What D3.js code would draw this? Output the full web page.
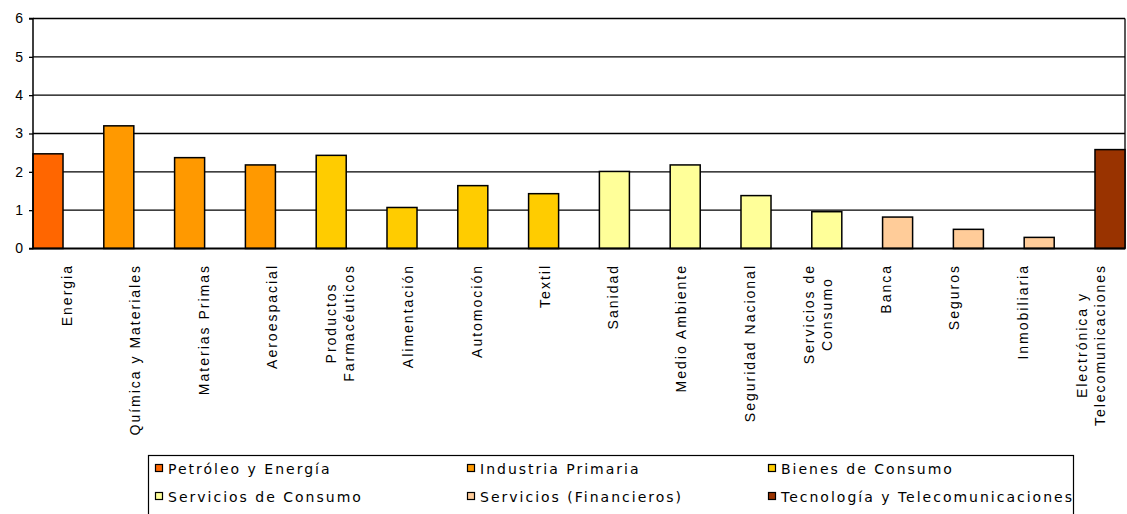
<!DOCTYPE html>
<html>
<head>
<meta charset="utf-8">
<script src="https://cdn.jsdelivr.net/npm/d3@7/dist/d3.min.js"></script>
<style>
  html, body { margin: 0; padding: 0; background: #fff; }
  svg { display: block; }
</style>
</head>
<body>
<svg id="chart" width="1127" height="514"></svg>
<script>
// ---- data ----
const categories = [
  "Energia", "Química y Materiales", "Materias Primas", "Aeroespacial",
  "Productos\nFarmacéuticos", "Alimentación", "Automoción", "Textil",
  "Sanidad", "Medio Ambiente", "Seguridad Nacional", "Servicios de\nConsumo",
  "Banca", "Seguros", "Inmobiliaria", "Electrónica y\nTelecomunicaciones"
];
const values = [2.47, 3.2, 2.37, 2.18, 2.43, 1.07, 1.64, 1.43, 2.01, 2.18, 1.38, 0.96, 0.82, 0.5, 0.29, 2.58];
const groupOf = [0, 1, 1, 1, 2, 2, 2, 2, 3, 3, 3, 3, 4, 4, 4, 5];
const groups = ["Petróleo y Energía", "Industria Primaria", "Bienes de Consumo",
                "Servicios de Consumo", "Servicios (Financieros)", "Tecnología y Telecomunicaciones"];
const groupColors = ["#FF6600", "#FF9900", "#FFCC00", "#FFFF99", "#FFCC99", "#993300"];
const yTicks = [0, 1, 2, 3, 4, 5, 6];

// ---- layout ----
const svg = d3.select("#chart");
const plot = { left: 33, right: 1125, top: 18.5, bottom: 248.5 };
const FONT = "Arial, 'Liberation Sans', Helvetica, sans-serif";

const y = d3.scaleLinear().domain([0, 6]).range([plot.bottom, plot.top]);
const xLabel = d3.scaleBand().domain(d3.range(categories.length)).range([plot.left, plot.right]);
const xBar = d3.scaleBand().domain(d3.range(categories.length))
  .range([plot.left, plot.right]).paddingInner(0.576).paddingOuter(0);

// gridlines
svg.append("g")
  .selectAll("line")
  .data(yTicks.filter(d => d > 0))
  .join("line")
  .attr("x1", plot.left).attr("x2", plot.right)
  .attr("y1", d => y(d)).attr("y2", d => y(d))
  .attr("stroke", "#000").attr("stroke-width", 1.3);

// right border
svg.append("line")
  .attr("x1", plot.right).attr("x2", plot.right)
  .attr("y1", y(6)).attr("y2", y(0))
  .attr("stroke", "#000").attr("stroke-width", 1.3);

// bars
svg.append("g")
  .selectAll("rect")
  .data(values)
  .join("rect")
  .attr("x", (d, i) => xBar(i))
  .attr("width", xBar.bandwidth())
  .attr("y", d => y(d))
  .attr("height", d => y(0) - y(d))
  .attr("fill", (d, i) => groupColors[groupOf[i]])
  .attr("stroke", "#000").attr("stroke-width", 1.5);

// y axis
const yAxis = d3.axisLeft(y).tickValues(yTicks).tickSize(4).tickPadding(6).tickFormat(d3.format("d"));
const ya = svg.append("g").attr("transform", `translate(${plot.left},0)`).call(yAxis);
ya.select(".domain").attr("stroke", "#000").attr("stroke-width", 1.5).attr("d", `M-4,${y(6)}H0V${y(0)}H-4`);
ya.selectAll(".tick line").attr("stroke", "#000").attr("stroke-width", 1.3);
ya.selectAll(".tick text").attr("fill", "#000")
  .style("font-family", FONT).style("font-size", "14px");

// x axis baseline
svg.append("line")
  .attr("x1", plot.left).attr("x2", plot.right)
  .attr("y1", y(0)).attr("y2", y(0))
  .attr("stroke", "#000").attr("stroke-width", 2);

// category labels (rotated)
const labelTop = 264;
const lineH = 18;
const lg = svg.append("g")
  .style("font-family", FONT)
  .style("font-size", "14px")
  .style("letter-spacing", "2px");
categories.forEach((c, i) => {
  const lines = c.split("\n");
  const g = lg.append("g");
  const t = g.append("text").attr("text-anchor", "middle").attr("fill", "#000");
  lines.forEach((ln, k) => {
    t.append("tspan").attr("x", 0)
      .attr("y", (k - (lines.length - 1) / 2) * lineH)
      .attr("dy", "0.35em").text(ln);
  });
  let maxW = 0;
  t.selectAll("tspan").each(function() { maxW = Math.max(maxW, this.getComputedTextLength()); });
  const cx = xLabel(i) + xLabel.bandwidth() / 2;
  g.attr("transform", `translate(${cx},${labelTop + maxW / 2}) rotate(-90)`);
});

// legend
const legend = svg.append("g");
legend.append("rect")
  .attr("x", 148.5).attr("y", 455.5).attr("width", 925).attr("height", 80)
  .attr("fill", "none").attr("stroke", "#000").attr("stroke-width", 1.2);
const colX = [155, 467, 768];
const rowY = [469, 497];
groups.forEach((gname, i) => {
  const cx = colX[i % 3], cy = rowY[Math.floor(i / 3)];
  legend.append("rect")
    .attr("x", cx + 0.5).attr("y", cy - 4.5).attr("width", 7).attr("height", 7)
    .attr("fill", groupColors[i]).attr("stroke", "#000").attr("stroke-width", 1.2);
  legend.append("text")
    .attr("x", cx + 13).attr("y", cy).attr("dy", "0.35em")
    .attr("fill", "#000")
    .style("font-family", "'DejaVu Sans', Verdana, sans-serif")
    .style("font-size", "14px")
    .style("letter-spacing", "2px")
    .text(gname);
});
</script>
</body>
</html>
